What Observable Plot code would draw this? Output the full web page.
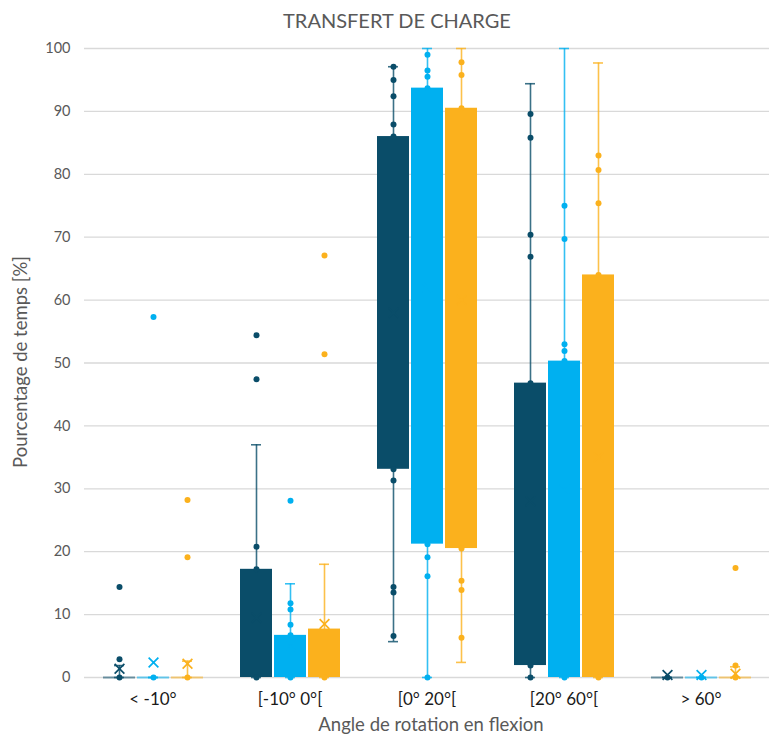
<!DOCTYPE html>
<html>
<head>
<meta charset="utf-8">
<script src="https://cdn.jsdelivr.net/npm/d3@7"></script>
<script src="https://cdn.jsdelivr.net/npm/@observablehq/plot@0.6"></script>
<style>
  html, body { margin: 0; padding: 0; background: #fff; }
  #wrap { position: relative; width: 774px; height: 744px; }
  #title { height: 36px; line-height: 40px; text-align: center; padding-left: 20px;
           font-family: Lato, "Open Sans", sans-serif; font-size: 20px; color: #595959; }
  .axt { position: absolute; font-family: Lato, "Open Sans", sans-serif; font-size: 18.5px; color: #595959; white-space: nowrap; }
  #ylab { left: 20px; top: 362px; transform: translate(-50%, -50%) rotate(-90deg); }
  #xlab { left: 431px; top: 724px; transform: translate(-50%, -50%); }
  [aria-label="fx-axis tick label"] { fill: #1a1a1a; font-size: 17px; }
  [aria-label="y-axis tick label"] { font-size: 14.5px; }
</style>
</head>
<body>
<div id="wrap">
<div id="title">TRANSFERT DE CHARGE</div>
<div id="chart"></div>
<div class="axt" id="ylab">Pourcentage de temps [%]</div>
<div class="axt" id="xlab">Angle de rotation en flexion</div>
</div>
<script>
const categories = ["< -10°", "[-10° 0°[", "[0° 20°[", "[20° 60°[", "> 60°"];
const seriesNames = ["Série 1", "Série 2", "Série 3"];
const colors = ["#0a4d69", "#00b0f0", "#fbb11d"];
const yTicks = [0, 10, 20, 30, 40, 50, 60, 70, 80, 90, 100];

// Série 1 (bleu foncé)
const s1Q1 = [0, 0, 33.1, 1.9, 0];
const s1Q3 = [0, 17.2, 86.0, 46.8, 0];
const s1Lo = [0, 0, 5.7, 0, 0];
const s1Hi = [1.9, 37.0, 97.1, 94.4, 0];
const s1Mean = [1.4, 9.5, 58, 28, 0.4];
const s1Points = [[14.4, 2.9, 0], [54.4, 47.4, 20.8, 17.2, 0], [97.1, 95.0, 92.4, 87.9, 86.0, 33.1, 31.3, 14.4, 13.5, 6.6], [89.6, 85.8, 70.4, 66.9, 46.8, 1.9, 0], [0]];

// Série 2 (bleu clair)
const s2Q1 = [0, 0, 21.2, 0, 0];
const s2Q3 = [0, 6.7, 93.7, 50.3, 0];
const s2Lo = [0, 0, 0, 0, 0];
const s2Hi = [0, 14.9, 100, 100, 0];
const s2Mean = [2.4, 5, 62, 30, 0.4];
const s2Points = [[57.3, 0], [28.1, 11.8, 10.8, 8.4, 6.7, 0], [99.0, 96.5, 95.5, 93.7, 21.2, 19.1, 16.1, 0], [75.0, 69.7, 53.0, 51.9, 50.3, 0], [0]];

// Série 3 (orange)
const s3Q1 = [0, 0, 20.5, 0, 0];
const s3Q3 = [0, 7.7, 90.5, 64.0, 0];
const s3Lo = [0, 0, 2.4, 0, 0];
const s3Hi = [2.6, 18.0, 100, 97.7, 1.7];
const s3Mean = [2.2, 8.5, 60, 35, 0.6];
const s3Points = [[28.2, 19.1, 0], [67.1, 51.4, 0], [97.8, 95.8, 90.5, 20.5, 15.4, 13.9, 6.3], [83.0, 80.7, 75.4, 64.0, 0], [17.4, 1.9, 0]];

const seriesData = [
  {name: seriesNames[0], q1: s1Q1, q3: s1Q3, lo: s1Lo, hi: s1Hi, mean: s1Mean, pts: s1Points},
  {name: seriesNames[1], q1: s2Q1, q3: s2Q3, lo: s2Lo, hi: s2Hi, mean: s2Mean, pts: s2Points},
  {name: seriesNames[2], q1: s3Q1, q3: s3Q3, lo: s3Lo, hi: s3Hi, mean: s3Mean, pts: s3Points}
];

const boxes = [];
const points = [];
for (const s of seriesData) {
  categories.forEach((cat, i) => {
    boxes.push({cat, series: s.name, q1: s.q1[i], q3: s.q3[i], lo: s.lo[i], hi: s.hi[i], mean: s.mean[i]});
    for (const v of s.pts[i]) points.push({cat, series: s.name, v});
  });
}

const chart = Plot.plot({
  width: 774,
  height: 708,
  marginTop: 12,
  marginBottom: 67,
  marginLeft: 82,
  marginRight: 4,
  style: {fontFamily: "Lato, 'Open Sans', sans-serif", fontSize: "13px", color: "#595959", background: "#fff"},
  fx: {domain: categories, padding: 0, label: null, tickSize: 0, tickPadding: 15, axis: "bottom"},
  x: {domain: seriesNames, paddingInner: 0.07, paddingOuter: 0.53, axis: null},
  y: {domain: [0, 100], ticks: yTicks, tickSize: 0, tickPadding: 14, label: null},
  color: {domain: seriesNames, range: colors},
  marks: [
    Plot.ruleY(yTicks, {stroke: "#d9d9d9", strokeWidth: 1.3}),
    Plot.ruleX(boxes, {fx: "cat", x: "series", y1: "lo", y2: "hi", stroke: "series", strokeWidth: 1.6, strokeOpacity: 0.8}),
    Plot.barY(boxes.filter(d => d.q3 > d.q1), {fx: "cat", x: "series", y1: "q1", y2: "q3", fill: "series"}),
    Plot.tickY(boxes.filter(d => d.q3 === d.q1), {fx: "cat", x: "series", y: "q1", stroke: "series", strokeWidth: 2, strokeOpacity: 0.55}),
    Plot.tickY(boxes, {fx: "cat", x: "series", y: "hi", stroke: "series", strokeWidth: 1.6, strokeOpacity: 0.8, insetLeft: 11, insetRight: 11}),
    Plot.tickY(boxes, {fx: "cat", x: "series", y: "lo", stroke: "series", strokeWidth: 1.6, strokeOpacity: 0.8, insetLeft: 11, insetRight: 11}),
    Plot.dot(points, {fx: "cat", x: "series", y: "v", fill: "series", r: 3}),
    Plot.dot(boxes, {fx: "cat", x: "series", y: "mean", symbol: "times", stroke: "series", r: 4.5, strokeWidth: 1.7})
  ]
});
document.getElementById("chart").appendChild(chart);
</script>
</body>
</html>
